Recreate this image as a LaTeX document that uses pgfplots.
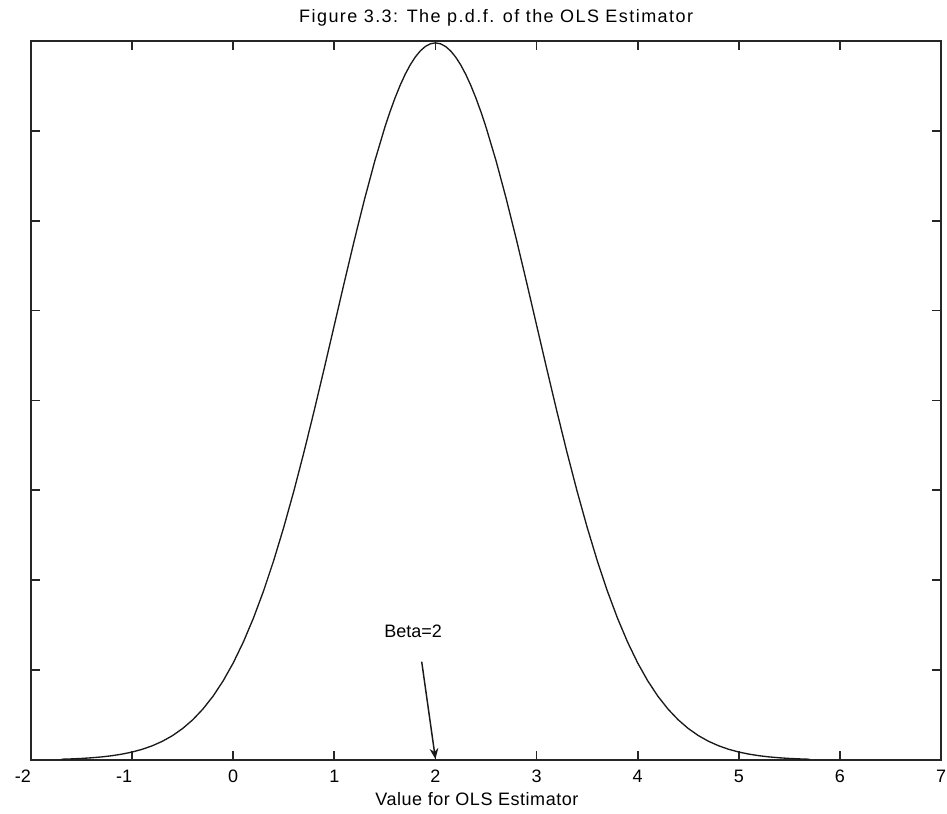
\documentclass[border=0pt]{standalone}
\usepackage{fontspec}
\setmainfont{Liberation Sans}
\newfontfamily\titlefont[LetterSpace=8]{Liberation Sans}
\newfontfamily\labelfont[LetterSpace=3]{Liberation Sans}
\usepackage{pgfplots}
\pgfplotsset{compat=1.18}
\usetikzlibrary{arrows.meta}
\pgfplotstableread{
x y
-1.7 0.00042
-1.6 0.00061
-1.5 0.00087
-1.4 0.00123
-1.3 0.00172
-1.2 0.00238
-1.1 0.00327
-1.0 0.00443
-0.9 0.00595
-0.8 0.00792
-0.7 0.01042
-0.6 0.01358
-0.5 0.01753
-0.4 0.02239
-0.3 0.02833
-0.2 0.03547
-0.1 0.04398
0.0 0.05399
0.1 0.06562
0.2 0.07895
0.3 0.09405
0.4 0.11092
0.5 0.12952
0.6 0.14973
0.7 0.17137
0.8 0.19419
0.9 0.21785
1.0 0.24197
1.1 0.26609
1.2 0.28969
1.3 0.31225
1.4 0.33322
1.5 0.35207
1.55 0.36053
1.6 0.36827
1.65 0.37524
1.7 0.38139
1.75 0.38667
1.8 0.39104
1.85 0.39448
1.9 0.39695
1.95 0.39844
2.0 0.39894
2.05 0.39844
2.1 0.39695
2.15 0.39448
2.2 0.39104
2.25 0.38667
2.3 0.38139
2.35 0.37524
2.4 0.36827
2.45 0.36053
2.5 0.35207
2.6 0.33322
2.7 0.31225
2.8 0.28969
2.9 0.26609
3.0 0.24197
3.1 0.21785
3.2 0.19419
3.3 0.17137
3.4 0.14973
3.5 0.12952
3.6 0.11092
3.7 0.09405
3.8 0.07895
3.9 0.06562
4.0 0.05399
4.1 0.04398
4.2 0.03547
4.3 0.02833
4.4 0.02239
4.5 0.01753
4.6 0.01358
4.7 0.01042
4.8 0.00792
4.9 0.00595
5.0 0.00443
5.1 0.00327
5.2 0.00238
5.3 0.00172
5.4 0.00123
5.5 0.00087
5.6 0.00061
5.7 0.00042
}\pdfdata
\begin{document}
\begin{tikzpicture}[font=\fontsize{13.5}{16}\selectfont]
\begin{axis}[
  scale only axis,
  width=682.5pt, height=539.25pt,
  xmin=-2, xmax=7, ymin=0, ymax=0.4,
  xtick={-2,-1,0,1,2,3,4,5,6,7},
  xticklabels={\llap{-2},\llap{-1},0,1,2,3,4,5,6,7},
  ytick={0,0.05,0.1,0.15,0.2,0.25,0.3,0.35,0.4},
  yticklabels={},
  tick align=inside,
  major tick length=6.75pt,
  axis line style={line width=1.3pt, black!85},
  every tick/.style={line width=1.3pt, black!85},
  xticklabel style={anchor=base, yshift=-17.25pt, font=\fontsize{13.5}{16}\selectfont},
  clip=false,
]
\addplot[line width=1pt, black!90, line join=round] table[x=x,y=y] {\pdfdata};
\draw[-{Stealth[length=8pt,width=6.5pt]}, line width=1.1pt, black!90]
  (axis cs:1.864,0.0547) -- (axis cs:2.0,0.0005);
\node[anchor=base] at (axis cs:1.78,0.0679) {Beta=2};
\node[anchor=base, yshift=13.5pt] at (axis cs:2.6,0.4) {\titlefont Figure 3.3: The p.d.f. of the OLS Estimator};
\node[anchor=base, yshift=-34.5pt] at (axis cs:2.41,0) {\labelfont Value for OLS Estimator};
\end{axis}
\pgfresetboundingbox
\path ([shift={(-23.25pt,-40.5pt)}]current axis.south west) rectangle ([shift={(4.5pt,30.75pt)}]current axis.north east);
\end{tikzpicture}
\end{document}
